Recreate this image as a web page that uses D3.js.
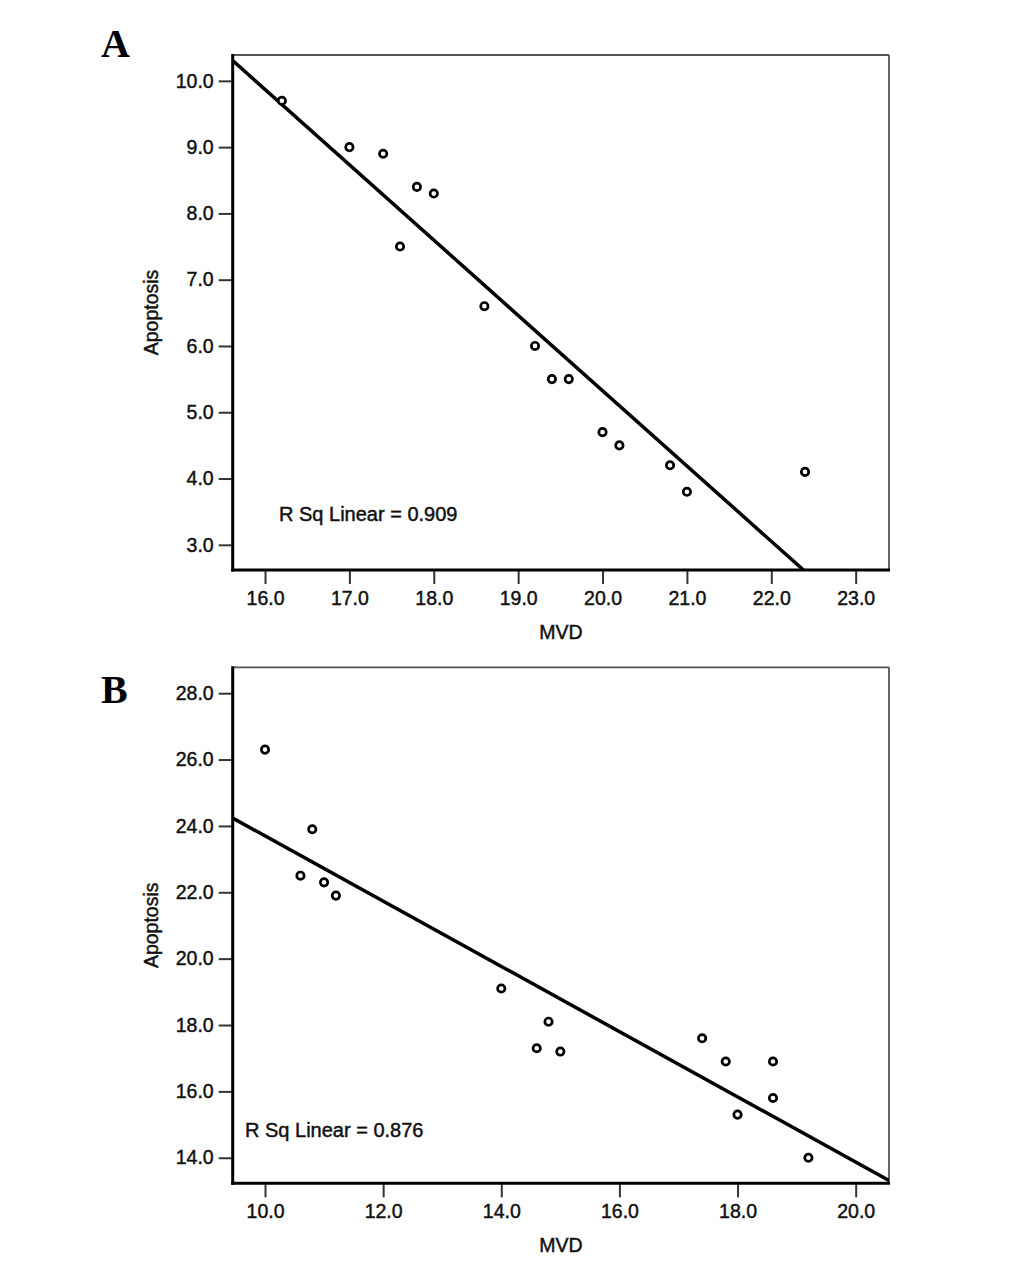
<!DOCTYPE html>
<html>
<head>
<meta charset="utf-8">
<script src="https://cdn.jsdelivr.net/npm/d3@7"></script>
<style>
  html, body { margin: 0; padding: 0; background: #fff; }
  svg { display: block; }
</style>
</head>
<body>
<svg id="chart" width="1033" height="1264"></svg>
<script>
// ---- Panel A data ----
const mvdA = [16.2, 17.0, 17.4, 17.6, 17.8, 18.0, 18.6, 19.2, 19.4, 19.6, 20.0, 20.2, 20.8, 21.0, 22.4];
const apoptosisA = [9.7, 9.0, 8.9, 7.5, 8.4, 8.3, 6.6, 6.0, 5.5, 5.5, 4.7, 4.5, 4.2, 3.8, 4.1];
const xTicksA = [16, 17, 18, 19, 20, 21, 22, 23];
const yTicksA = [3, 4, 5, 6, 7, 8, 9, 10];
const xDomainA = [15.617, 23.395];
const yDomainA = [2.62, 10.39];
const rsqLabelA = "R Sq Linear = 0.909";

// ---- Panel B data ----
const mvdB = [10.0, 10.8, 10.6, 11.0, 11.2, 14.0, 14.8, 14.6, 15.0, 17.4, 17.8, 18.6, 18.6, 18.0, 19.2];
const apoptosisB = [26.3, 23.9, 22.5, 22.3, 21.9, 19.1, 18.1, 17.3, 17.2, 17.6, 16.9, 16.9, 15.8, 15.3, 14.0];
const xTicksB = [10, 12, 14, 16, 18, 20];
const yTicksB = [14, 16, 18, 20, 22, 24, 26, 28];
const xDomainB = [9.453, 20.564];
const yDomainB = [13.23, 28.78];
const rsqLabelB = "R Sq Linear = 0.876";

const xTitle = "MVD";
const yTitle = "Apoptosis";

const SANS = "Arial, 'Liberation Sans', sans-serif";
const SERIF = "'Liberation Serif', 'Times New Roman', serif";

const svg = d3.select("#chart");
const fmt = d3.format(".1f");

function linFit(xs, ys) {
  const mx = d3.mean(xs), my = d3.mean(ys);
  let sxy = 0, sxx = 0;
  xs.forEach((x, i) => { sxy += (x - mx) * (ys[i] - my); sxx += (x - mx) * (x - mx); });
  const b = sxy / sxx;
  return { slope: b, intercept: my - b * mx };
}

function styleText(sel, size) {
  return sel.style("font-family", SANS).style("font-size", size + "px")
    .style("fill", "#111").style("stroke", "#111").style("stroke-width", "0.45px");
}

function drawPanel(cfg) {
  const { id, letter, xs, ys, xTicks, yTicks, xDomain, yDomain, rsq, box, rsqPos, letterPos } = cfg;
  const g = svg.append("g");
  const x = d3.scaleLinear().domain(xDomain).range([box.left, box.right]);
  const y = d3.scaleLinear().domain(yDomain).range([box.bottom, box.top]);

  svg.append("clipPath").attr("id", "clip" + id)
    .append("rect").attr("x", box.left).attr("y", box.top)
    .attr("width", box.right - box.left).attr("height", box.bottom - box.top);

  // top & right frame lines (thin gray)
  g.append("line").attr("x1", box.left).attr("x2", box.right).attr("y1", box.top).attr("y2", box.top)
    .attr("stroke", "#555").attr("stroke-width", 1.8);
  g.append("line").attr("x1", box.right).attr("x2", box.right).attr("y1", box.top).attr("y2", box.bottom)
    .attr("stroke", "#555").attr("stroke-width", 1.8);

  const xAxis = d3.axisBottom(x).tickValues(xTicks).tickFormat(fmt).tickSize(14).tickPadding(7);
  const yAxis = d3.axisLeft(y).tickValues(yTicks).tickFormat(fmt).tickSize(14).tickPadding(5);
  const gx = g.append("g").attr("transform", `translate(0,${box.bottom})`).call(xAxis);
  const gy = g.append("g").attr("transform", `translate(${box.left},0)`).call(yAxis);
  [gx, gy].forEach(a => {
    a.select(".domain").remove();
    a.selectAll(".tick line").attr("stroke", "#333").attr("stroke-width", 2);
    styleText(a.selectAll(".tick text"), 19.5);
  });
  g.append("line").attr("x1", box.left).attr("x2", box.left).attr("y1", box.top - 1).attr("y2", box.bottom + 1.5)
    .attr("stroke", "#000").attr("stroke-width", 3);
  g.append("line").attr("x1", box.left - 1.5).attr("x2", box.right + 1).attr("y1", box.bottom).attr("y2", box.bottom)
    .attr("stroke", "#000").attr("stroke-width", 3);

  // fit line
  const fit = linFit(xs, ys);
  g.append("line")
    .attr("clip-path", `url(#clip${id})`)
    .attr("x1", x(xDomain[0])).attr("y1", y(fit.intercept + fit.slope * xDomain[0]))
    .attr("x2", x(xDomain[1])).attr("y2", y(fit.intercept + fit.slope * xDomain[1]))
    .attr("stroke", "#000").attr("stroke-width", 3.5);

  // points
  g.selectAll("circle.pt").data(xs.map((v, i) => [v, ys[i]])).join("circle")
    .attr("class", "pt")
    .attr("cx", d => x(d[0])).attr("cy", d => y(d[1])).attr("r", 3.7)
    .attr("fill", "#fff").attr("stroke", "#000").attr("stroke-width", 2.7);

  // titles
  styleText(g.append("text").attr("x", (box.left + box.right) / 2).attr("y", box.bottom + 69)
    .attr("text-anchor", "middle"), 19.5).text(xTitle);
  styleText(g.append("text").attr("transform", `translate(${box.left - 75},${(box.top + box.bottom) / 2}) rotate(-90)`)
    .attr("text-anchor", "middle"), 19.5).text(yTitle);

  // R Sq annotation
  styleText(g.append("text").attr("x", rsqPos[0]).attr("y", rsqPos[1]), 20).text(rsq);

  // panel letter
  g.append("text").attr("x", letterPos[0]).attr("y", letterPos[1])
    .style("font-family", SERIF).style("font-weight", "bold").style("font-size", "40px")
    .style("fill", "#000").text(letter);
}

drawPanel({
  id: "A", letter: "A", xs: mvdA, ys: apoptosisA, xTicks: xTicksA, yTicks: yTicksA,
  xDomain: xDomainA, yDomain: yDomainA, rsq: rsqLabelA,
  box: { left: 232.7, right: 889, top: 55, bottom: 570 },
  rsqPos: [279, 521], letterPos: [101, 57]
});
drawPanel({
  id: "B", letter: "B", xs: mvdB, ys: apoptosisB, xTicks: xTicksB, yTicks: yTicksB,
  xDomain: xDomainB, yDomain: yDomainB, rsq: rsqLabelB,
  box: { left: 232.7, right: 889, top: 667.3, bottom: 1183.3 },
  rsqPos: [245, 1137], letterPos: [101, 703]
});
</script>
</body>
</html>
